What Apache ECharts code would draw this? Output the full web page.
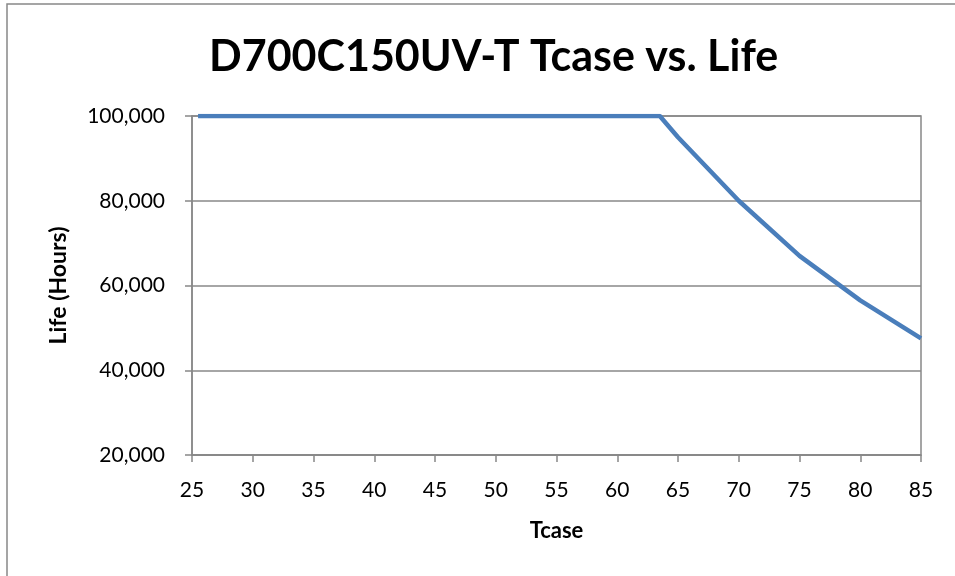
<!DOCTYPE html>
<html>
<head>
<meta charset="utf-8">
<script src="https://cdn.jsdelivr.net/npm/echarts@6/dist/echarts.min.js"></script>
<style>
  html, body { margin: 0; padding: 0; background: #fff; }
  #chart { width: 955px; height: 576px; }
</style>
</head>
<body>
<div id="chart"></div>
<script>
// Tcase (deg C) vs rated life (hours)
var tcase = [25.5, 63.5, 65, 70, 75, 80, 85];
var lifeHours = [100000, 100000, 95000, 80000, 67000, 56500, 47500];

var chart = echarts.init(document.getElementById('chart'));
var font = 'Lato, "Open Sans", sans-serif';

chart.setOption({
  animation: false,
  title: {
    text: 'D700C150UV-T Tcase vs. Life',
    left: 204,
    top: 31,
    textStyle: { fontFamily: font, fontSize: 43, fontWeight: 'bold', color: '#000' }
  },
  graphic: [{
    type: 'rect',
    shape: { x: 7, y: 4, width: 980, height: 620 },
    style: { fill: 'none', stroke: '#888', lineWidth: 1.5 },
    silent: true
  }],
  grid: {
    left: 192, right: 34, top: 116, bottom: 121,
    show: true, borderColor: '#888', borderWidth: 1.5
  },
  xAxis: {
    type: 'value',
    min: 25, max: 85, interval: 5,
    name: 'Tcase',
    nameLocation: 'middle',
    nameGap: 65,
    nameTextStyle: { fontFamily: font, fontSize: 22, fontWeight: 'bold', color: '#000' },
    axisLine: { lineStyle: { color: '#888', width: 1.5 } },
    axisTick: { length: 7, lineStyle: { color: '#888', width: 1.5 } },
    axisLabel: { fontFamily: font, fontSize: 21, color: '#000', margin: 25 },
    splitLine: { show: false }
  },
  yAxis: {
    type: 'value',
    min: 20000, max: 100000, interval: 20000,
    name: 'Life (Hours)',
    nameLocation: 'middle',
    nameGap: 122,
    nameTextStyle: { fontFamily: font, fontSize: 23, fontWeight: 'bold', color: '#000' },
    axisLine: { show: true, lineStyle: { color: '#888', width: 1.5 } },
    axisTick: { show: true, length: 7, lineStyle: { color: '#888', width: 1.5 } },
    axisLabel: {
      fontFamily: font, fontSize: 21, color: '#000', margin: 27,
      formatter: function (v) { return v.toLocaleString('en-US'); }
    },
    splitLine: { lineStyle: { color: '#888', width: 1.5 } }
  },
  series: [{
    type: 'line',
    data: tcase.map(function (t, i) { return [t, lifeHours[i]]; }),
    showSymbol: false,
    lineStyle: { color: '#4a7ebb', width: 4.5 }
  }]
});
</script>
</body>
</html>
